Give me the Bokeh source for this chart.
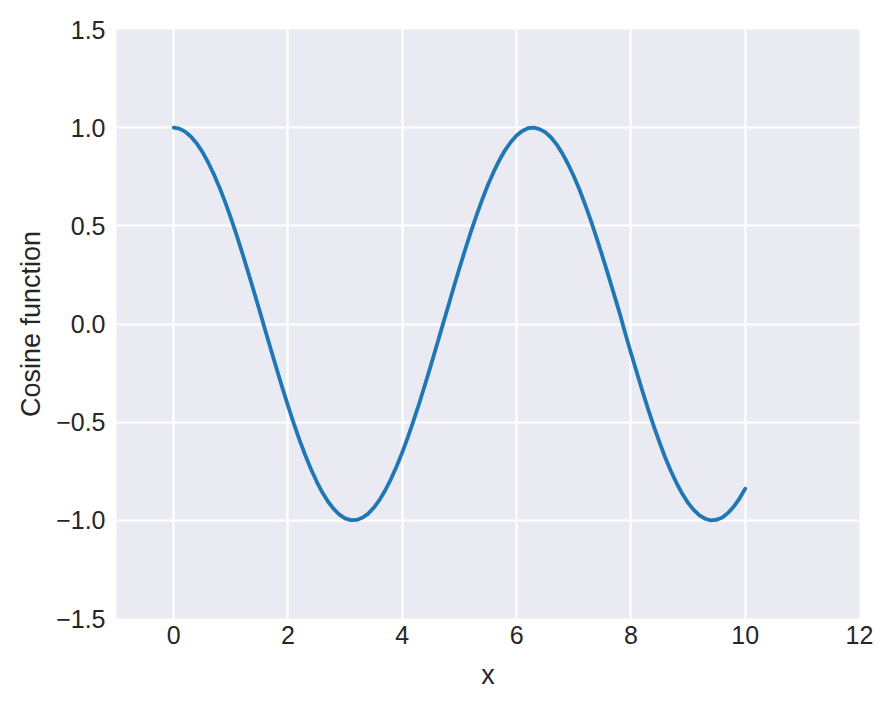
from bokeh.plotting import figure
from bokeh.models import FixedTicker, Range1d
from bokeh.embed import file_html
from bokeh.resources import INLINE

x_vals = [0.0, 0.1, 0.2, 0.3, 0.4, 0.5, 0.6, 0.7, 0.8, 0.9,
          1.0, 1.1, 1.2, 1.3, 1.4, 1.5, 1.6, 1.7, 1.8, 1.9,
          2.0, 2.1, 2.2, 2.3, 2.4, 2.5, 2.6, 2.7, 2.8, 2.9,
          3.0, 3.1, 3.2, 3.3, 3.4, 3.5, 3.6, 3.7, 3.8, 3.9,
          4.0, 4.1, 4.2, 4.3, 4.4, 4.5, 4.6, 4.7, 4.8, 4.9,
          5.0, 5.1, 5.2, 5.3, 5.4, 5.5, 5.6, 5.7, 5.8, 5.9,
          6.0, 6.1, 6.2, 6.3, 6.4, 6.5, 6.6, 6.7, 6.8, 6.9,
          7.0, 7.1, 7.2, 7.3, 7.4, 7.5, 7.6, 7.7, 7.8, 7.9,
          8.0, 8.1, 8.2, 8.3, 8.4, 8.5, 8.6, 8.7, 8.8, 8.9,
          9.0, 9.1, 9.2, 9.3, 9.4, 9.5, 9.6, 9.7, 9.8, 9.9,
          10.0]
y_vals = [1.000, 0.995, 0.980, 0.955, 0.921, 0.878, 0.825, 0.765, 0.697, 0.622,
          0.540, 0.454, 0.362, 0.267, 0.170, 0.071, -0.029, -0.129, -0.227, -0.323,
          -0.416, -0.505, -0.589, -0.666, -0.737, -0.801, -0.857, -0.904, -0.942, -0.971,
          -0.990, -0.999, -0.998, -0.987, -0.967, -0.936, -0.897, -0.848, -0.791, -0.726,
          -0.654, -0.575, -0.490, -0.401, -0.307, -0.211, -0.112, -0.012, 0.087, 0.187,
          0.284, 0.378, 0.469, 0.554, 0.635, 0.709, 0.776, 0.835, 0.886, 0.927,
          0.960, 0.983, 0.997, 1.000, 0.993, 0.977, 0.951, 0.915, 0.869, 0.815,
          0.754, 0.685, 0.608, 0.526, 0.439, 0.347, 0.253, 0.156, 0.059, -0.046,
          -0.146, -0.243, -0.340, -0.432, -0.520, -0.602, -0.680, -0.749, -0.811, -0.865,
          -0.911, -0.947, -0.975, -0.992, -1.000, -0.997, -0.985, -0.962, -0.930, -0.889,
          -0.839]

x_ticks = [0, 2, 4, 6, 8, 10, 12]
y_ticks = [-1.5, -1.0, -0.5, 0.0, 0.5, 1.0, 1.5]
y_tick_labels = ["\u22121.5", "\u22121.0", "\u22120.5", "0.0", "0.5", "1.0", "1.5"]
x_label = "x"
y_label = "Cosine function"

FONT = "Liberation Sans"
TEXT = "#262626"

p = figure(width=877, height=692, output_backend="svg", toolbar_location=None,
           x_range=Range1d(-1, 12), y_range=Range1d(-1.5, 1.5),
           min_border_left=116, min_border_right=18, min_border_top=29, min_border_bottom=69)
p.background_fill_color = "#EAEAF2"
p.border_fill_color = "white"
p.outline_line_color = None

p.line(x_vals, y_vals, line_color="#1f77b4", line_width=3.8, line_join="round", line_cap="round")

p.xaxis.ticker = FixedTicker(ticks=x_ticks)
p.yaxis.ticker = FixedTicker(ticks=y_ticks)
p.yaxis.major_label_overrides = {t: l for t, l in zip(y_ticks, y_tick_labels)}
p.xaxis.major_label_overrides = {t: str(t) for t in x_ticks}

for ax in (p.xaxis, p.yaxis):
    ax.axis_line_color = None
    ax.major_tick_line_color = None
    ax.minor_tick_line_color = None
    ax.major_tick_out = 0
    ax.major_tick_in = 0
    ax.minor_tick_out = 0
    ax.minor_tick_in = 0
    ax.major_label_text_font = FONT
    ax.major_label_text_font_size = "25px"
    ax.major_label_text_color = TEXT
    ax.axis_label_text_font = FONT
    ax.axis_label_text_font_size = "27px"
    ax.axis_label_text_color = TEXT
    ax.axis_label_text_font_style = "normal"

p.xaxis.axis_label = x_label
p.yaxis.axis_label = y_label
p.xaxis.major_label_standoff = 7
p.yaxis.major_label_standoff = 11
p.xaxis.axis_label_standoff = 13
p.yaxis.axis_label_standoff = 7

p.xgrid.grid_line_color = "white"
p.ygrid.grid_line_color = "white"
p.xgrid.grid_line_width = 2.2
p.ygrid.grid_line_width = 2.2

open("out.html", "w").write(file_html(p, INLINE))
